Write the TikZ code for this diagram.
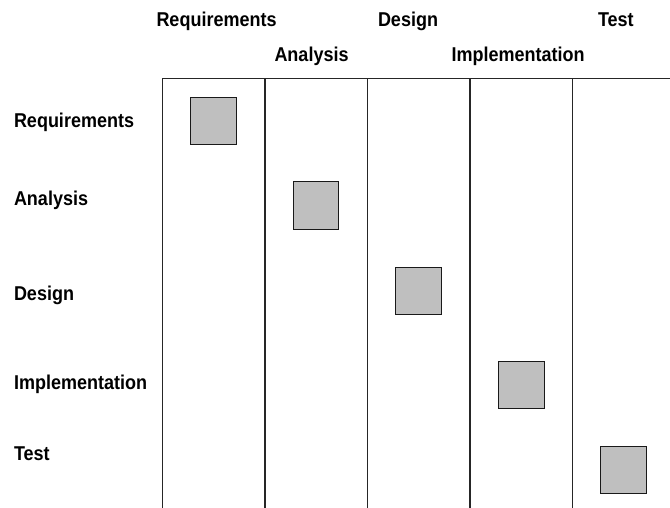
\documentclass[tikz,border=0pt]{standalone}
\usepackage{fontspec}
\setmainfont{Liberation Sans}[FakeStretch=0.9]
\begin{document}
\begin{tikzpicture}[x=1pt,y=-1pt,
  lbl/.style={anchor=base west,inner sep=0pt,outer sep=0pt,font=\fontsize{20}{24}\selectfont\bfseries},
  grid/.style={line width=1.3pt,black!85},
  task/.style={draw=black!90,line width=1pt,fill=black!25},
  ]
\useasboundingbox (0,0) rectangle (670,508);
% column headers
\node[lbl] (hreq) at (156.5,26.7) {Requirements};
\node[lbl] (hdes) at (378,26.7) {Design};
\node[lbl] (htst) at (598,26.7) {Test};
\node[lbl] (hana) at (274.5,61.5) {Analysis};
\node[lbl] (himp) at (451.5,61.5) {Implementation};
% row labels
\node[lbl] (rreq) at (14,127.7) {Requirements};
\node[lbl] (rana) at (14,206) {Analysis};
\node[lbl] (rdes) at (14,300.7) {Design};
\node[lbl] (rimp) at (14,389) {Implementation};
\node[lbl] (rtst) at (14,460.7) {Test};
% grid
\coordinate (tl) at (162.3,78.5);
\coordinate (tr) at (670,78.5);
\draw[grid] (tl) -- (tr);
\foreach \i/\x in {0/162.3,1/265,2/367.5,3/470,4/572.7}{
  \coordinate (vt\i) at (\x,78.5);
  \coordinate (vb\i) at (\x,508);
  \draw[grid] (vt\i) -- (vb\i);
}
% task boxes
\draw[task] (190.5,97.5) rectangle (236.3,145) coordinate (b1);
\draw[task] (293,182) rectangle (338.8,229.5) coordinate (b2);
\draw[task] (395.7,267) rectangle (441.5,314.5) coordinate (b3);
\draw[task] (498.3,361.3) rectangle (544,408.7) coordinate (b4);
\draw[task] (600.8,446) rectangle (646.6,493.3) coordinate (b5);
\end{tikzpicture}
\end{document}
